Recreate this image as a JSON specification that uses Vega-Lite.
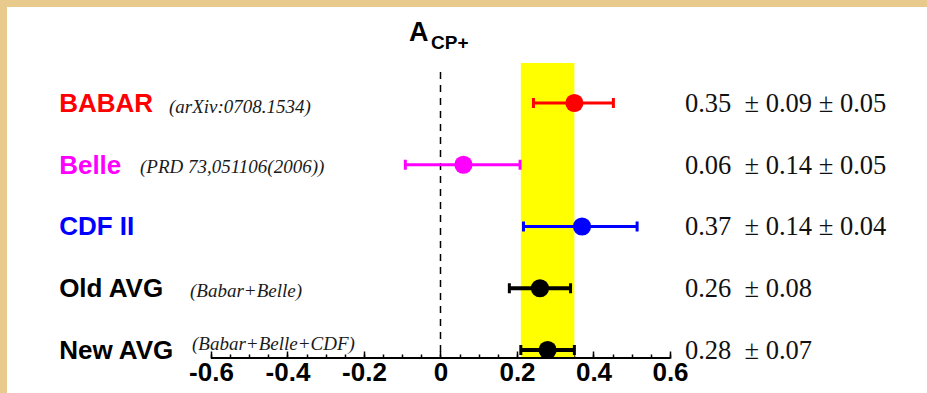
{
  "$schema": "https://vega.github.io/schema/vega-lite/v6.json",
  "width": 935,
  "height": 401,
  "autosize": "none",
  "padding": 0,
  "background": "white",
  "config": {"view": {"stroke": "#E8CA8C", "strokeWidth": 14, "fill": "white"}},
  "data": {"values": [
    {"name": "BABAR", "ref": "(arXiv:0708.1534)", "row": 5, "value": 0.35, "lo": 0.243, "hi": 0.452, "result": "0.35\u00a0\u00a0± 0.09 ± 0.05"},
    {"name": "Belle", "ref": "(PRD 73,051106(2006))", "row": 4, "value": 0.06, "lo": -0.092, "hi": 0.208, "result": "0.06\u00a0\u00a0± 0.14 ± 0.05"},
    {"name": "CDF II", "ref": "", "row": 3, "value": 0.37, "lo": 0.217, "hi": 0.514, "result": "0.37\u00a0\u00a0± 0.14 ± 0.04"},
    {"name": "Old AVG", "ref": "(Babar+Belle)", "row": 2, "value": 0.26, "lo": 0.18, "hi": 0.34, "result": "0.26\u00a0\u00a0± 0.08"},
    {"name": "New AVG", "ref": "(Babar+Belle+CDF)", "row": 1, "value": 0.28, "lo": 0.21, "hi": 0.35, "result": "0.28\u00a0\u00a0± 0.07"}
  ]},
  "resolve": {"axis": {"x": "independent"}},
  "layer": [
    {
      "transform": [{"filter": "datum.name == 'New AVG'"}],
      "mark": {"type": "rect", "color": "#FFFF00"},
      "encoding": {
        "x": {"field": "lo", "type": "quantitative", "scale": {"domain": [-1.15163, 1.29281], "nice": false, "zero": false}, "axis": null},
        "x2": {"field": "hi"},
        "y": {"datum": 5.648, "type": "quantitative", "scale": {"domain": [0.17409, 6.668], "nice": false, "zero": false}, "axis": null},
        "y2": {"datum": 0.87}
      }
    },
    {
      "data": {"values": [{}]},
      "mark": {"type": "rule", "color": "black", "strokeWidth": 1.5, "strokeDash": [7, 6]},
      "encoding": {
        "x": {"datum": 0, "type": "quantitative", "axis": null},
        "y": {"datum": 5.502, "type": "quantitative", "axis": null},
        "y2": {"datum": 0.87}
      }
    },
    {
      "data": {"values": [{}]},
      "mark": {"type": "rule", "color": "black", "strokeWidth": 2},
      "encoding": {
        "x": {"datum": -0.6, "type": "quantitative", "axis": {"orient": "bottom", "offset": -43, "values": [-0.6, -0.55, -0.5, -0.45, -0.4, -0.35, -0.3, -0.25, -0.2, -0.15, -0.1, -0.05, 0, 0.05, 0.1, 0.15, 0.2, 0.25, 0.3, 0.35, 0.4, 0.45, 0.5, 0.55, 0.6], "labels": false, "domain": false, "grid": false, "tickSize": -4, "tickColor": "black", "tickWidth": 1.5, "title": null}},
        "x2": {"datum": 0.6},
        "y": {"datum": 0.87, "type": "quantitative", "axis": null}
      }
    },
    {
      "mark": {"type": "rule"},
      "encoding": {
        "x": {"field": "lo", "type": "quantitative", "axis": null},
        "x2": {"field": "hi"},
        "y": {"field": "row", "type": "quantitative", "axis": null},
        "color": {"field": "name", "type": "nominal", "scale": {"domain": ["BABAR", "Belle", "CDF II", "Old AVG", "New AVG"], "range": ["#FF0000", "#FF00FF", "#0000FF", "#000000", "#000000"]}, "legend": null},
        "strokeWidth": {"condition": {"test": "datum.name == 'Old AVG' || datum.name == 'New AVG'", "value": 4}, "value": 3}
      }
    },
    {
      "mark": {"type": "tick", "orient": "vertical", "size": 10, "thickness": 3, "opacity": 1},
      "encoding": {
        "x": {"field": "lo", "type": "quantitative", "axis": null},
        "y": {"field": "row", "type": "quantitative", "axis": null},
        "color": {"field": "name", "type": "nominal", "legend": null}
      }
    },
    {
      "mark": {"type": "tick", "orient": "vertical", "size": 10, "thickness": 3, "opacity": 1},
      "encoding": {
        "x": {"field": "hi", "type": "quantitative", "axis": null},
        "y": {"field": "row", "type": "quantitative", "axis": null},
        "color": {"field": "name", "type": "nominal", "legend": null}
      }
    },
    {
      "mark": {"type": "circle", "size": 330, "opacity": 1},
      "encoding": {
        "x": {"field": "value", "type": "quantitative", "axis": {"orient": "bottom", "offset": -43, "values": [-0.6, -0.4, -0.2, 0, 0.2, 0.4, 0.6], "domain": false, "grid": false, "tickSize": -7, "tickColor": "black", "tickWidth": 1.5, "labelFont": "Liberation Sans", "labelFontWeight": "bold", "labelFontSize": 26, "labelColor": "black", "labelPadding": 8, "labelExpr": "datum.value == 0 ? '0' : (datum.value < 0 ? '-' + format(-datum.value, '.1f') : format(datum.value, '.1f'))", "title": null}},
        "y": {"field": "row", "type": "quantitative", "axis": null},
        "color": {"field": "name", "type": "nominal", "legend": null}
      }
    },
    {
      "mark": {"type": "text", "font": "Liberation Sans", "fontWeight": "bold", "fontSize": 26, "align": "left", "baseline": "alphabetic", "dy": 9},
      "encoding": {
        "x": {"datum": -0.997, "type": "quantitative", "axis": null},
        "y": {"field": "row", "type": "quantitative", "axis": null},
        "text": {"field": "name"},
        "color": {"field": "name", "type": "nominal", "legend": null}
      }
    },
    {
      "transform": [{"filter": "datum.name == 'BABAR'"}],
      "mark": {"type": "text", "font": "Liberation Serif", "fontStyle": "italic", "fontSize": 19, "align": "left", "baseline": "alphabetic", "dy": 10, "color": "#1a1a1a"},
      "encoding": {
        "x": {"datum": -0.7098, "type": "quantitative", "axis": null},
        "y": {"field": "row", "type": "quantitative", "axis": null},
        "text": {"field": "ref"}
      }
    },
    {
      "transform": [{"filter": "datum.name == 'Belle'"}],
      "mark": {"type": "text", "font": "Liberation Serif", "fontStyle": "italic", "fontSize": 19, "align": "left", "baseline": "alphabetic", "dy": 8, "color": "#1a1a1a"},
      "encoding": {
        "x": {"datum": -0.7856, "type": "quantitative", "axis": null},
        "y": {"field": "row", "type": "quantitative", "axis": null},
        "text": {"field": "ref"}
      }
    },
    {
      "transform": [{"filter": "datum.name == 'Old AVG'"}],
      "mark": {"type": "text", "font": "Liberation Serif", "fontStyle": "italic", "fontSize": 19, "align": "left", "baseline": "alphabetic", "dy": 9, "color": "#1a1a1a"},
      "encoding": {
        "x": {"datum": -0.6549, "type": "quantitative", "axis": null},
        "y": {"field": "row", "type": "quantitative", "axis": null},
        "text": {"field": "ref"}
      }
    },
    {
      "transform": [{"filter": "datum.name == 'New AVG'"}],
      "mark": {"type": "text", "font": "Liberation Serif", "fontStyle": "italic", "fontSize": 19, "align": "left", "baseline": "alphabetic", "dy": 0, "color": "#1a1a1a"},
      "encoding": {
        "x": {"datum": -0.6497, "type": "quantitative", "axis": null},
        "y": {"field": "row", "type": "quantitative", "axis": null},
        "text": {"field": "ref"}
      }
    },
    {
      "mark": {"type": "text", "font": "Liberation Serif", "fontSize": 26.5, "align": "left", "baseline": "alphabetic", "dy": 9, "color": "#111111"},
      "encoding": {
        "x": {"datum": 0.639, "type": "quantitative", "axis": null},
        "y": {"field": "row", "type": "quantitative", "axis": null},
        "text": {"field": "result"}
      }
    },
    {
      "data": {"values": [{}]},
      "mark": {"type": "text", "font": "Liberation Sans", "fontWeight": "bold", "fontSize": 27, "align": "left", "baseline": "alphabetic", "color": "black"},
      "encoding": {
        "x": {"datum": -0.0824, "type": "quantitative", "axis": null},
        "y": {"datum": 6.004, "type": "quantitative", "axis": null},
        "text": {"value": "A"}
      }
    },
    {
      "data": {"values": [{}]},
      "mark": {"type": "text", "font": "Liberation Sans", "fontWeight": "bold", "fontSize": 19, "align": "left", "baseline": "alphabetic", "color": "black"},
      "encoding": {
        "x": {"datum": -0.0248, "type": "quantitative", "axis": null},
        "y": {"datum": 5.87, "type": "quantitative", "axis": null},
        "text": {"value": "CP+"}
      }
    }
  ]
}
